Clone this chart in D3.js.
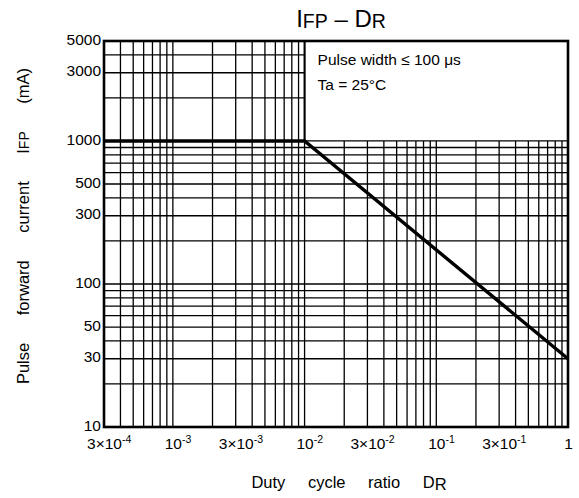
<!DOCTYPE html>
<html><head><meta charset="utf-8">
<script src="https://cdn.jsdelivr.net/npm/d3@7"></script>
<style>
body{margin:0;background:#fff;}
svg{display:block;font-family:"Liberation Sans",Arial,Helvetica,sans-serif;}
</style>
</head><body>
<svg id="chart" width="579" height="498"></svg>
<script>
// ---- data ----
const xDomain = [3e-4, 1];
const yDomain = [10, 5000];
const xTickValues = [3e-4, 1e-3, 3e-3, 1e-2, 3e-2, 1e-1, 3e-1, 1];
const xTickMantissa = ["3×10", "10", "3×10", "10", "3×10", "10", "3×10", "1"];
const xTickExponent = ["-4", "-3", "-3", "-2", "-2", "-1", "-1", ""];
const yTickValues = [10, 30, 50, 100, 300, 500, 1000, 3000, 5000];
const yTickLabels = ["10", "30", "50", "100", "300", "500", "1000", "3000", "5000"];
const dutyRatio = [3e-4, 1e-2, 1];
const pulseCurrent = [1000, 1000, 30];
const gridBreak = {x: 1e-2, y: 1000};
const noteLines = ["Pulse width ≤ 100 μs", "Ta = 25°C"];

// ---- layout ----
const svg = d3.select("#chart");
const L = 104, R = 568, T = 41, B = 427;
const x = d3.scaleLog().domain(xDomain).range([L, R]);
const y = d3.scaleLog().domain(yDomain).range([B, T]);

const grid = svg.append("g").attr("stroke", "#000").attr("stroke-width", 1.3).attr("fill", "none");
const xs = x.ticks().filter(v => v > xDomain[0] * 1.0001 && v < xDomain[1] * 0.9999);
const ys = y.ticks().filter(v => v > yDomain[0] * 1.0001 && v < yDomain[1] * 0.9999);

// vertical grid lines
xs.forEach(v => {
  const top = v <= gridBreak.x * 1.0001 ? y(yDomain[1]) : y(gridBreak.y);
  grid.append("line").attr("x1", x(v)).attr("x2", x(v)).attr("y1", y(yDomain[0])).attr("y2", top);
});
// horizontal grid lines
ys.forEach(v => {
  const right = v <= gridBreak.y * 1.0001 ? x(xDomain[1]) : x(gridBreak.x);
  grid.append("line").attr("y1", y(v)).attr("y2", y(v)).attr("x1", x(xDomain[0])).attr("x2", right);
});
// heavier divider of the empty box
svg.append("line").attr("x1", x(gridBreak.x)).attr("x2", x(gridBreak.x))
  .attr("y1", y(gridBreak.y)).attr("y2", y(yDomain[1]))
  .attr("stroke", "#000").attr("stroke-width", 2);

// frame
svg.append("rect").attr("x", L).attr("y", T).attr("width", R - L).attr("height", B - T)
  .attr("fill", "none").attr("stroke", "#000").attr("stroke-width", 2.6);

// curve
const line = d3.line().x(d => x(d[0])).y(d => y(d[1]));
svg.append("path").datum(dutyRatio.map((d, i) => [d, pulseCurrent[i]]))
  .attr("d", line).attr("fill", "none").attr("stroke", "#000").attr("stroke-width", 3.4)
  .attr("stroke-linejoin", "miter");

// y axis labels
const yAxis = d3.axisLeft(y).tickValues(yTickValues)
  .tickFormat((d, i) => yTickLabels[i]).tickSize(0).tickPadding(3);
const gy = svg.append("g").attr("transform", `translate(${L},0)`).call(yAxis);
gy.select(".domain").remove();
gy.selectAll("text").attr("font-size", 15.5).attr("fill", "#000")
  .attr("font-family", "Liberation Sans, Arial, sans-serif").attr("dy", "0.2em");

// x axis labels (mantissa centred on the tick, exponent hanging to the right)
const xAxis = d3.axisBottom(x).tickValues(xTickValues).tickSize(0).tickFormat("");
const gx = svg.append("g").attr("transform", `translate(0,${B})`).call(xAxis);
gx.select(".domain").remove();
gx.selectAll(".tick text").each(function(d, i) {
  const t = d3.select(this).attr("fill", "#000").attr("font-size", 15.5)
    .attr("font-family", "Liberation Sans, Arial, sans-serif").attr("y", 22).attr("dy", 0)
    .attr("text-anchor", "start");
  t.text(null);
  const m = t.append("tspan").text(xTickMantissa[i]);
  if (xTickExponent[i]) t.append("tspan").attr("font-size", 10.5).attr("dy", -6).text(xTickExponent[i]);
  const w = m.node().getComputedTextLength();
  t.attr("x", -w / 2);
});

// title
const title = svg.append("text").attr("x", 341).attr("y", 27).attr("text-anchor", "middle")
  .attr("font-size", 24).attr("fill", "#000");
title.append("tspan").text("I");
title.append("tspan").attr("font-size", 19.5).attr("dy", 1).text("FP");
title.append("tspan").attr("dy", -1).text(" – D");
title.append("tspan").attr("font-size", 19.5).attr("dy", 1).text("R");

// note
noteLines.forEach((s, i) => {
  svg.append("text").attr("x", x(gridBreak.x) + 13).attr("y", 65 + i * 25)
    .attr("font-size", 15.5).attr("fill", "#000").text(s);
});

// axis titles
const xt = svg.append("text").attr("x", 349).attr("y", 488).attr("text-anchor", "middle")
  .attr("font-size", 16.5).attr("fill", "#000").attr("word-spacing", 18);
xt.append("tspan").text("Duty cycle ratio D");
xt.append("tspan").attr("font-size", 16.5).attr("dy", 2).text("R");

const yt = svg.append("text").attr("transform", "translate(29,226) rotate(-90)")
  .attr("text-anchor", "middle").attr("font-size", 16.5).attr("fill", "#000").attr("word-spacing", 23);
yt.append("tspan").text("Pulse forward current I");
yt.append("tspan").attr("font-size", 14).text("FP");
yt.append("tspan").text(" (mA)");
</script>
</body></html>
